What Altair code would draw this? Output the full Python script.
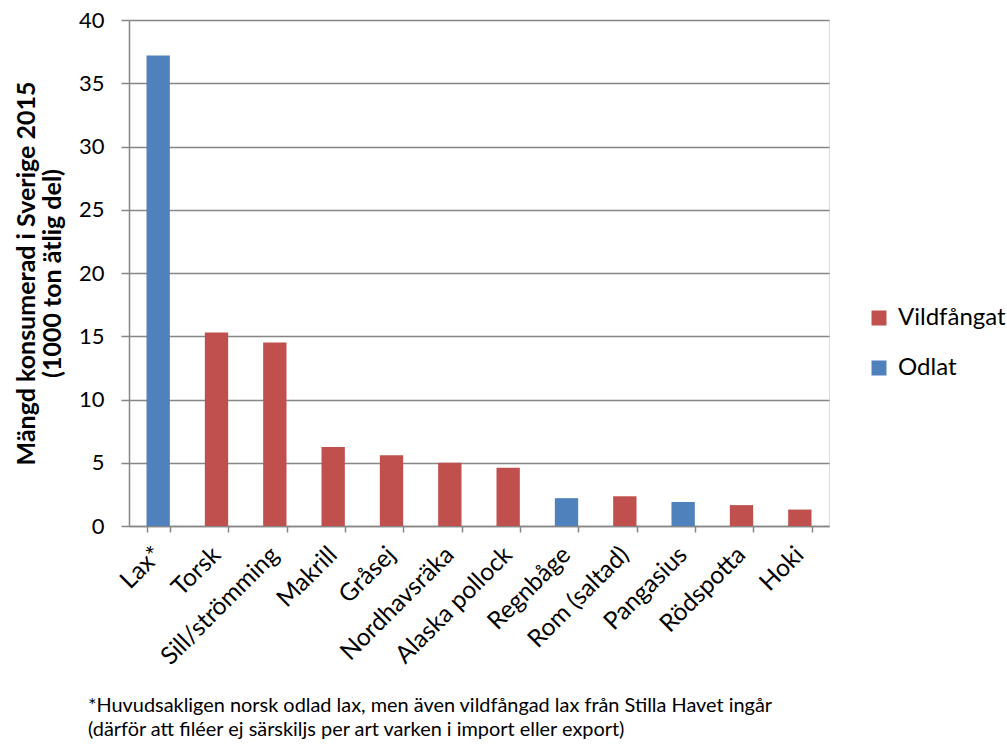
import altair as alt
import pandas as pd

# Consumption in Sweden 2015, thousand tonnes edible weight
species = ["Lax*", "Torsk", "Sill/strömming", "Makrill", "Gråsej", "Nordhavsräka",
           "Alaska pollock", "Regnbåge", "Rom (saltad)", "Pangasius", "Rödspotta", "Hoki"]
amounts = [37.2, 15.3, 14.5, 6.25, 5.6, 5.0, 4.6, 2.2, 2.35, 1.9, 1.65, 1.3]
origin = ["Odlat", "Vildfångat", "Vildfångat", "Vildfångat", "Vildfångat", "Vildfångat",
          "Vildfångat", "Odlat", "Vildfångat", "Odlat", "Vildfångat", "Vildfångat"]

legend_order = ["Vildfångat", "Odlat"]
legend_colors = ["#C0504D", "#4F81BD"]
y_ticks = [0, 5, 10, 15, 20, 25, 30, 35, 40]

footnote = [
    "*Huvudsakligen norsk odlad lax, men även vildfångad lax från Stilla Havet ingår",
    "(därför att filéer ej särskiljs per art varken i import eller export)",
]

df = pd.DataFrame({"art": species, "mangd": amounts, "typ": origin})

FONT = "Lato"
GREY = "#868686"

bars = alt.Chart(df).mark_bar().encode(
    x=alt.X(
        "art:N",
        sort=species,
        scale=alt.Scale(paddingInner=0.6, paddingOuter=0.3),
        axis=alt.Axis(
            title=None,
            labelAngle=-45,
            labelAlign="right",
            labelBaseline="middle",
            labelFontSize=24.5,
            labelFont=FONT,
            labelColor="#000000",
            labelPadding=19,
            tickBand="extent",
            tickSize=6,
            tickColor=GREY,
            tickWidth=1.5,
            domainColor=GREY,
            domainWidth=1.5,
            grid=False,
        ),
    ),
    y=alt.Y(
        "mangd:Q",
        scale=alt.Scale(domain=[0, 40], nice=False),
        axis=alt.Axis(
            title=["Mängd konsumerad i Sverige 2015", "(1000 ton ätlig del)"],
            titleFont=FONT,
            titleFontSize=25,
            titleFontWeight="bold",
            titleColor="#000000",
            titleLineHeight=26,
            titlePadding=13,
            values=y_ticks,
            labelFontSize=22,
            labelFont=FONT,
            labelColor="#000000",
            labelPadding=17,
            tickSize=8,
            tickColor=GREY,
            tickWidth=1.5,
            domainColor=GREY,
            domainWidth=1.5,
            grid=True,
            gridColor=GREY,
            gridWidth=1.5,
        ),
    ),
    color=alt.Color(
        "typ:N",
        scale=alt.Scale(domain=legend_order, range=legend_colors),
        legend=alt.Legend(
            title=None,
            orient="none",
            legendX=738,
            legendY=286,
            symbolType="square",
            symbolSize=225,
            symbolStrokeWidth=0,
            labelFont=FONT,
            labelFontSize=24,
            labelColor="#000000",
            rowPadding=26,
            labelOffset=7,
        ),
    ),
)

note = alt.Chart(pd.DataFrame({"t": [footnote]})).mark_text(
    align="left", baseline="middle", font=FONT, fontSize=19.9, lineHeight=24, color="#000000"
).encode(x=alt.value(-41), y=alt.value(686), text="t:N")

chart = alt.layer(bars, note).properties(
    width=700,
    height=506,
    autosize=alt.AutoSizeParams(type="none"),
    padding={"left": 129, "top": 20, "right": 178, "bottom": 218},
).configure_view(stroke=None).configure(background="white")

chart.save("out.html", embed_options={"renderer": "svg", "actions": False})
